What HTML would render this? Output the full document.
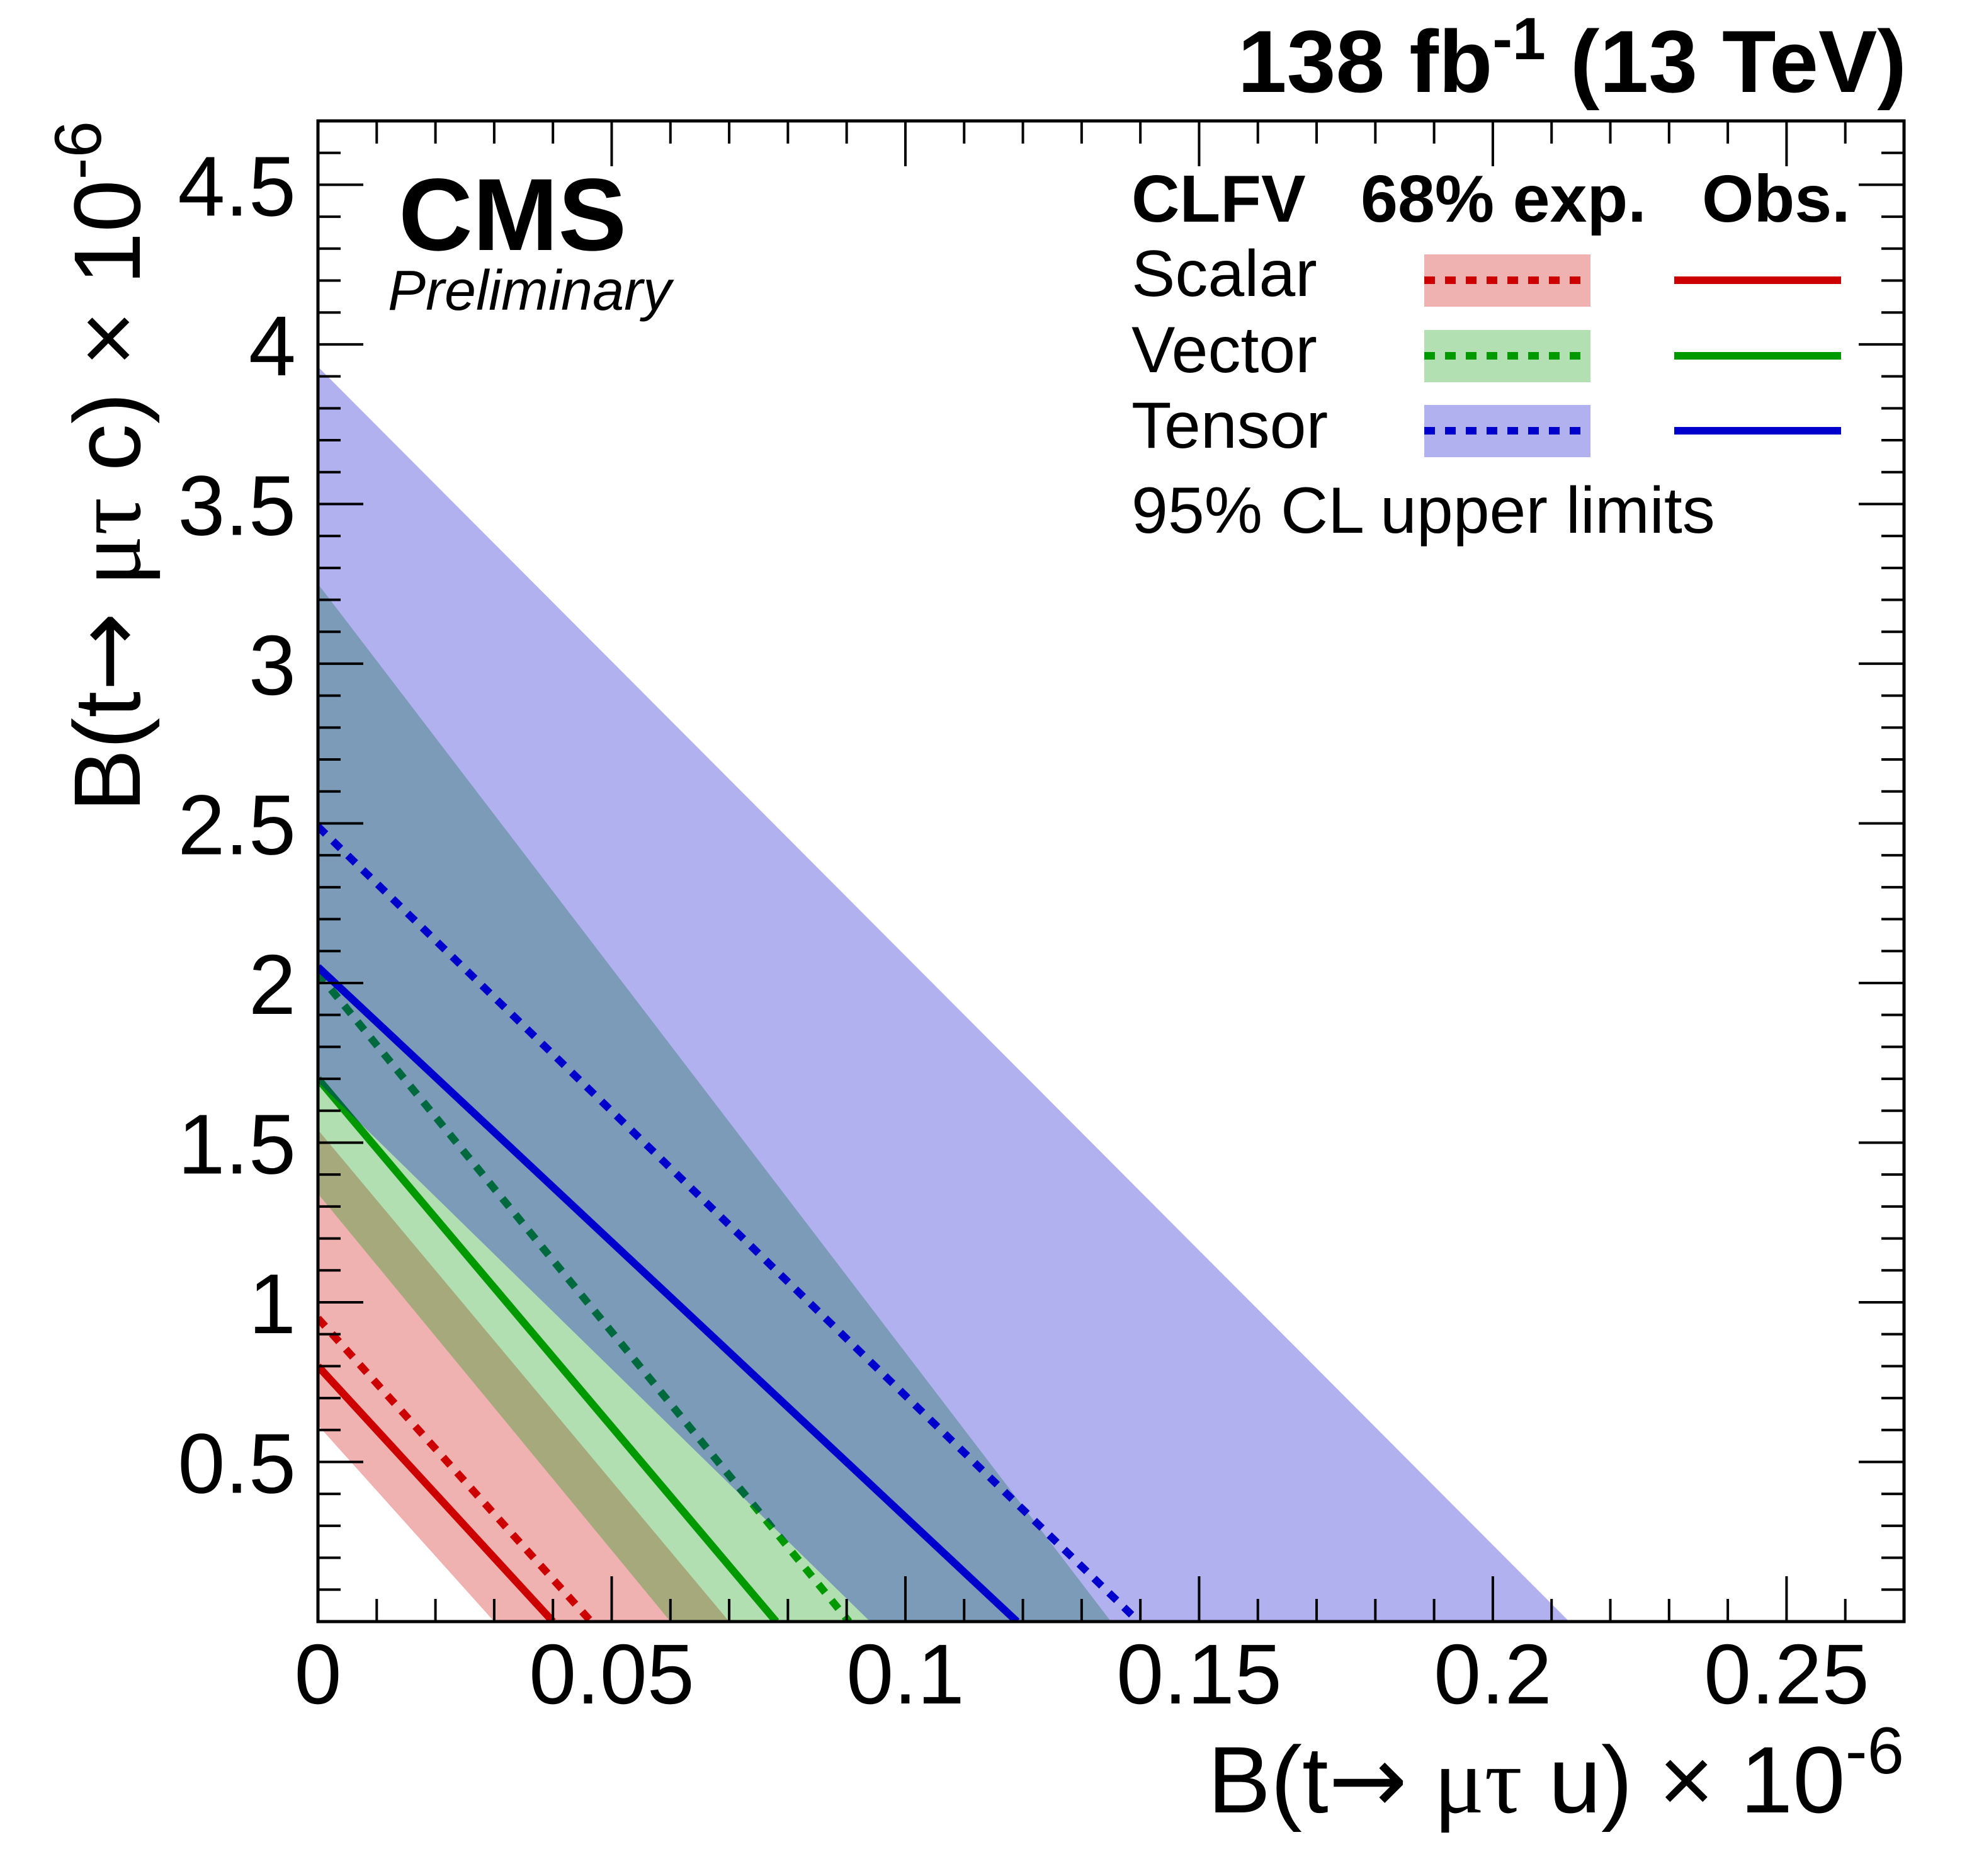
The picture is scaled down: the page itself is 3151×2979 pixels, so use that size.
<!DOCTYPE html>
<html><head><meta charset="utf-8"><style>
html,body{margin:0;padding:0;background:#fff;}
svg{display:block;}
text{font-family:"Liberation Sans",sans-serif;fill:#000;}
</style></head><body>
<svg id="chart" width="3151" height="2979" viewBox="0 0 3151 2979" xmlns="http://www.w3.org/2000/svg">
<rect x="0" y="0" width="3151" height="2979" fill="#fff"/>
<g id="plot"></g>
<g id="axes"></g>
<text x="3028" y="146" text-anchor="end" font-size="140" font-weight="bold">138 fb<tspan dy="-52" font-size="95">-1</tspan><tspan dy="52"> (13 TeV)</tspan></text>
<text x="633" y="397" font-size="163" font-weight="bold">CMS</text>
<text x="616" y="492" font-size="90" font-style="italic">Preliminary</text>
<text x="3024" y="2878" text-anchor="end" font-size="150">B(t<tspan font-family="DejaVu Sans, sans-serif">→</tspan> <tspan font-family="Liberation Serif, serif">μτ</tspan> u) × 10<tspan dy="-62" font-size="105">-6</tspan></text>
<text transform="translate(222,192) rotate(-90)" text-anchor="end" font-size="150">B(t<tspan font-family="DejaVu Sans, sans-serif">→</tspan> <tspan font-family="Liberation Serif, serif">μτ</tspan> c) × 10<tspan dy="-62" font-size="105">-6</tspan></text>
<g>
<text x="1797" y="352" font-size="106" font-weight="bold">CLFV</text>
<text x="2161" y="352" font-size="106" font-weight="bold">68% exp.</text>
<text x="2703" y="352" font-size="106" font-weight="bold">Obs.</text>
<text x="1797" y="470" font-size="104">Scalar</text>
<text x="1797" y="591" font-size="104">Vector</text>
<text x="1797" y="711" font-size="104">Tensor</text>
<rect x="2262" y="404" width="264" height="83" fill="#f0b1b1"/>
<rect x="2262" y="524" width="264" height="83" fill="#b3e0b3"/>
<rect x="2262" y="643" width="264" height="83" fill="#b1b1ef"/>
<line x1="2262" y1="445" x2="2515" y2="445" stroke="#cc0000" stroke-width="12" stroke-dasharray="17 16"/>
<line x1="2262" y1="565" x2="2515" y2="565" stroke="#009900" stroke-width="12" stroke-dasharray="17 16"/>
<line x1="2262" y1="684" x2="2515" y2="684" stroke="#0000cc" stroke-width="12" stroke-dasharray="17 16"/>
<line x1="2659" y1="445" x2="2924" y2="445" stroke="#cc0000" stroke-width="12"/>
<line x1="2659" y1="565" x2="2924" y2="565" stroke="#009900" stroke-width="12"/>
<line x1="2659" y1="684" x2="2924" y2="684" stroke="#0000cc" stroke-width="12"/>
<text x="1797" y="846" font-size="104">95% CL upper limits</text>
</g>
</svg>
<script>
// data: x-intercept (B(t->mu tau u)) and y-intercept (B(t->mu tau c)) of each contour
const models = ["scalar", "vector", "tensor"];
const bandLowX = [0.030, 0.060, 0.094];
const bandLowY = [0.615, 1.34, 1.69];
const bandHighX = [0.070, 0.135, 0.213];
const bandHighY = [1.54, 3.25, 3.93];
const expX = [0.0465, 0.0904, 0.1397];
const expY = [0.95, 2.03, 2.49];
const obsX = [0.040, 0.078, 0.119];
const obsY = [0.80, 1.70, 2.05];
const xTickLabels = ["0", "0.05", "0.1", "0.15", "0.2", "0.25"];
const yTickLabels = ["0.5", "1", "1.5", "2", "2.5", "3", "3.5", "4", "4.5"];

const X0 = 505, X1 = 3024, Y0 = 2575, Y1 = 192;
const xMin = 0, xMax = 0.27, yMin = 0, yMax = 4.7;
const sx = v => X0 + (v - xMin) / (xMax - xMin) * (X1 - X0);
const sy = v => Y0 - (v - yMin) / (yMax - yMin) * (Y0 - Y1);
const NS = "http://www.w3.org/2000/svg";
const plot = document.getElementById("plot");
const axes = document.getElementById("axes");
const bandColors = ["rgb(206,0,0)", "rgb(0,151,0)", "rgb(0,0,204)"];
const lineColors = ["#cc0000", "#009900", "#0000cc"];

function mk(tag, attrs, parent) {
  const e = document.createElementNS(NS, tag);
  for (const k in attrs) e.setAttribute(k, attrs[k]);
  parent.appendChild(e);
  return e;
}

const clip = mk("clipPath", {id: "clipf"}, plot);
mk("rect", {x: X0, y: Y1, width: X1 - X0, height: Y0 - Y1}, clip);
const g = mk("g", {"clip-path": "url(#clipf)"}, plot);

models.forEach((m, i) => {
  const pts = [[0, bandHighY[i]], [bandHighX[i], 0], [bandLowX[i], 0], [0, bandLowY[i]]];
  const band = mk("polygon", {
    points: pts.map(p => sx(p[0]) + "," + sy(p[1])).join(" "),
    fill: bandColors[i], "fill-opacity": 0.306
  }, g);
  
  
  const ex = mk("line", {x1: sx(0), y1: sy(expY[i]), x2: sx(expX[i]), y2: sy(0),
    stroke: lineColors[i], "stroke-width": 12, "stroke-dasharray": "17 16"}, g);
  
  
  const ob = mk("line", {x1: sx(0), y1: sy(obsY[i]), x2: sx(obsX[i]), y2: sy(0),
    stroke: lineColors[i], "stroke-width": 12}, g);
  
  
});

for (let k = 0; k <= 27; k++) {
  const v = k * 0.01, x = sx(v), L = (k % 5 === 0) ? 72 : 36;
  mk("line", {x1: x, y1: Y0, x2: x, y2: Y0 - L, stroke: "#000", "stroke-width": 4}, axes);
  mk("line", {x1: x, y1: Y1, x2: x, y2: Y1 + L, stroke: "#000", "stroke-width": 4}, axes);
}
for (let k = 0; k <= 47; k++) {
  const v = k * 0.1, y = sy(v), L = (k % 5 === 0) ? 72 : 36;
  mk("line", {x1: X0, y1: y, x2: X0 + L, y2: y, stroke: "#000", "stroke-width": 4}, axes);
  mk("line", {x1: X1, y1: y, x2: X1 - L, y2: y, stroke: "#000", "stroke-width": 4}, axes);
}
const frame = mk("rect", {x: X0, y: Y1, width: X1 - X0, height: Y0 - Y1, fill: "none", stroke: "#000", "stroke-width": 5}, axes);



xTickLabels.forEach((t, i) => {
  const el = mk("text", {x: sx(i * 0.05), y: 2705, "text-anchor": "middle", "font-size": 135}, axes);
  el.textContent = t;
  
  
});
yTickLabels.forEach((t, i) => {
  const el = mk("text", {x: 470, y: sy((i + 1) * 0.5) + 49, "text-anchor": "end", "font-size": 135}, axes);
  el.textContent = t;
  
  
});
</script>
</body></html>
